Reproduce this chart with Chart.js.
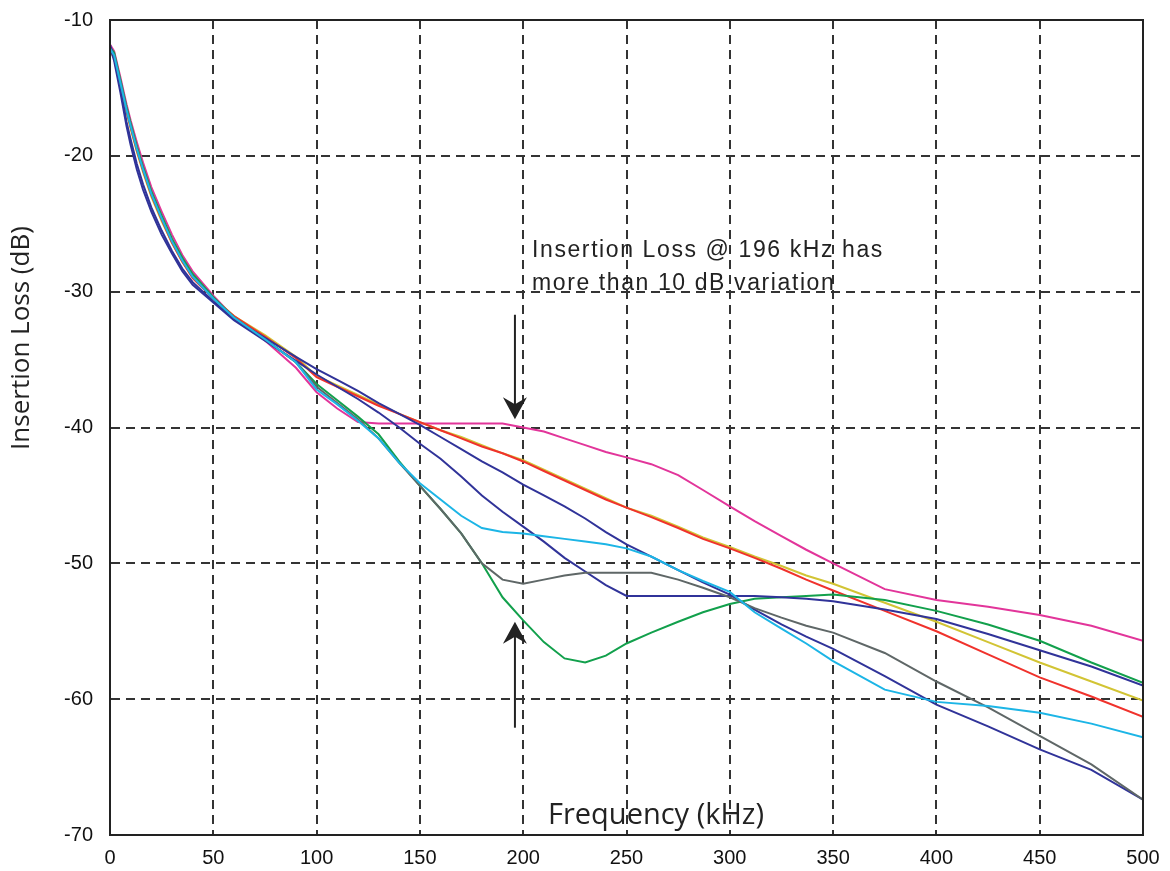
<!DOCTYPE html>
<html>
<head>
    <title>Insertion Loss vs Frequency</title>
    <script src="https://cdn.jsdelivr.net/npm/chart.js"></script>
    <style>
        body { margin: 0; background: #fff; }
        #wrap { width: 1170px; height: 871px; }
    </style>
</head>
<body>
<div id="wrap"><canvas id="lossChart" width="1170" height="871"></canvas></div>
<script>
// frequency points (kHz), shared by every trace
const freq = [0, 2, 5, 8, 10, 13, 16, 20, 25, 30, 35, 40, 50, 60, 75, 90,
    100, 110, 120, 130, 140, 150, 160, 170, 180, 190,
    200, 210, 220, 230, 240, 250, 262, 275, 287, 300,
    312, 325, 337, 350, 375, 400, 425, 450, 475, 500];

// insertion loss (dB) per trace
const lossMagenta = [-11.8, -12.3, -14.2, -16.2, -17.4, -19.0, -20.5, -22.3, -24.1, -25.8, -27.3, -28.5, -30.3, -31.9, -33.6, -35.6,
    -37.4, -38.6, -39.6, -39.7, -39.7, -39.7, -39.7, -39.7, -39.7, -39.7,
    -40.0, -40.3, -40.8, -41.3, -41.8, -42.2, -42.7, -43.5, -44.6, -45.8,
    -46.9, -48.0, -49.0, -50.0, -51.9, -52.7, -53.2, -53.8, -54.6, -55.7];
const lossYellow = [-12.3, -12.8, -14.7, -16.8, -18.0, -19.7, -21.2, -23.0, -24.8, -26.4, -27.8, -28.9, -30.5, -31.8, -33.2, -34.8,
    -36.2, -36.9, -37.6, -38.3, -39.0, -39.6, -40.2, -40.7, -41.3, -41.9,
    -42.4, -43.1, -43.8, -44.5, -45.2, -45.9, -46.5, -47.3, -48.1, -48.8,
    -49.5, -50.2, -50.9, -51.5, -52.9, -54.3, -55.8, -57.3, -58.7, -60.1];
const lossRed = [-12.2, -12.7, -14.6, -16.7, -17.9, -19.6, -21.1, -22.9, -24.7, -26.4, -27.8, -29.0, -30.5, -31.8, -33.3, -34.9,
    -36.3, -37.0, -37.7, -38.4, -39.0, -39.6, -40.2, -40.8, -41.4, -41.9,
    -42.5, -43.2, -43.9, -44.6, -45.3, -45.9, -46.6, -47.4, -48.2, -48.9,
    -49.6, -50.4, -51.2, -52.0, -53.5, -55.0, -56.7, -58.4, -59.8, -61.3];
const lossGreen = [-12.0, -12.4, -14.4, -16.4, -17.6, -19.3, -20.8, -22.6, -24.4, -26.1, -27.5, -28.7, -30.4, -31.9, -33.5, -35.2,
    -36.8, -38.0, -39.2, -40.5, -42.5, -44.3, -46.0, -47.8, -50.0, -52.5,
    -54.2, -55.8, -57.0, -57.3, -56.8, -55.9, -55.1, -54.3, -53.6, -53.0,
    -52.6, -52.5, -52.4, -52.3, -52.7, -53.5, -54.5, -55.7, -57.3, -58.8];
const lossGray = [-12.1, -12.6, -14.6, -16.6, -17.8, -19.5, -21.0, -22.8, -24.6, -26.3, -27.7, -28.9, -30.5, -31.9, -33.5, -35.2,
    -37.0, -38.2, -39.4, -40.8, -42.6, -44.3, -46.0, -47.8, -50.0, -51.2,
    -51.5, -51.2, -50.9, -50.7, -50.7, -50.7, -50.7, -51.2, -51.8, -52.5,
    -53.3, -54.0, -54.6, -55.1, -56.6, -58.7, -60.6, -62.7, -64.8, -67.4];
const lossCyan = [-12.1, -12.6, -14.6, -16.6, -17.8, -19.5, -21.0, -22.8, -24.6, -26.3, -27.7, -28.9, -30.5, -31.9, -33.5, -35.2,
    -37.2, -38.3, -39.5, -40.8, -42.6, -44.1, -45.3, -46.5, -47.4, -47.7,
    -47.8, -48.0, -48.2, -48.4, -48.6, -48.9, -49.5, -50.5, -51.3, -52.1,
    -53.6, -54.8, -55.9, -57.2, -59.3, -60.2, -60.5, -61.0, -61.8, -62.8];
const lossBlueA = [-11.8, -12.8, -15.0, -17.5, -18.8, -20.6, -22.1, -23.8, -25.5, -27.0, -28.3, -29.3, -30.7, -32.0, -33.4, -34.8,
    -35.7, -36.5, -37.3, -38.2, -39.0, -39.8, -40.7, -41.6, -42.5, -43.3,
    -44.2, -45.0, -45.8, -46.7, -47.7, -48.6, -49.5, -50.5, -51.4, -52.3,
    -53.4, -54.5, -55.4, -56.3, -58.3, -60.4, -62.0, -63.7, -65.2, -67.4];
const lossBlueB = [-12.0, -13.0, -15.3, -17.8, -19.2, -21.0, -22.5, -24.1, -25.8, -27.2, -28.5, -29.5, -30.8, -32.1, -33.6, -35.1,
    -36.1, -37.0, -37.9, -38.9, -40.0, -41.2, -42.3, -43.6, -45.0, -46.2,
    -47.3, -48.4, -49.6, -50.6, -51.6, -52.4, -52.4, -52.4, -52.4, -52.4,
    -52.4, -52.5, -52.6, -52.8, -53.4, -54.1, -55.2, -56.4, -57.6, -59.0];

const traces = [
    { data: lossCyan,    color: '#1cb5e6' },
    { data: lossGray,    color: '#5f6767' },
    { data: lossBlueB,   color: '#303399' },
    { data: lossBlueA,   color: '#303399' },
    { data: lossGreen,   color: '#12a04c' },
    { data: lossRed,     color: '#f0322c' },
    { data: lossYellow,  color: '#d2c434' },
    { data: lossMagenta, color: '#e2359a' }
];

const noteLines = ['Insertion Loss @ 196 kHz has', 'more than 10 dB variation'];
const markFreq = 196;

// frame, axis titles, note and arrows
const extras = {
    id: 'extras',
    afterDraw(chart) {
        const { ctx, chartArea: a, scales: { x, y } } = chart;
        ctx.save();
        ctx.strokeStyle = '#222';
        ctx.lineWidth = 2;
        ctx.setLineDash([]);
        ctx.strokeRect(a.left, a.top, a.right - a.left, a.bottom - a.top);

        ctx.fillStyle = '#222';
        ctx.font = '26px "Open Sans", "Noto Sans", sans-serif';
        ctx.textAlign = 'center';
        ctx.textBaseline = 'middle';
        ctx.translate(22, 338);
        ctx.rotate(-Math.PI / 2);
        ctx.fillText('Insertion Loss (dB)', 0, 0);
        ctx.restore();

        ctx.save();
        ctx.fillStyle = '#222';
        ctx.font = '29px "Open Sans", "Noto Sans", sans-serif';
        ctx.textAlign = 'center';
        ctx.textBaseline = 'alphabetic';
        ctx.fillText('Frequency (kHz)', 656, 824);

        ctx.font = '23px "Liberation Sans", Arial, sans-serif';
        ctx.letterSpacing = '1.6px';
        ctx.textAlign = 'left';
        ctx.fillText(noteLines[0], 532, 257);
        ctx.fillText(noteLines[1], 532, 290);
        ctx.letterSpacing = '0px';

        const ax = x.getPixelForValue(markFreq);
        const arrow = (y0, y1) => {
            const dir = y1 > y0 ? 1 : -1;
            ctx.strokeStyle = '#222';
            ctx.lineWidth = 2;
            ctx.beginPath();
            ctx.moveTo(ax, y0);
            ctx.lineTo(ax, y1 - dir * 14);
            ctx.stroke();
            ctx.beginPath();
            ctx.moveTo(ax, y1);
            ctx.lineTo(ax - 12, y1 - dir * 22);
            ctx.lineTo(ax, y1 - dir * 15);
            ctx.lineTo(ax + 12, y1 - dir * 22);
            ctx.closePath();
            ctx.fill();
        };
        arrow(y.getPixelForValue(-31.7), y.getPixelForValue(-39.4));
        arrow(y.getPixelForValue(-62.1), y.getPixelForValue(-54.3));
        ctx.restore();
    }
};

const tickFont = { family: '"Liberation Sans", Arial, sans-serif', size: 20 };

new Chart(document.getElementById('lossChart'), {
    type: 'line',
    data: {
        datasets: traces.map(t => ({
            data: freq.map((f, i) => ({ x: f, y: t.data[i] })),
            borderColor: t.color,
            borderWidth: 2,
            pointRadius: 0,
            tension: 0,
            fill: false
        }))
    },
    options: {
        responsive: false,
        animation: false,
        devicePixelRatio: 1,
        layout: { padding: { top: 20, right: 27, left: 0, bottom: 0 } },
        plugins: { legend: { display: false }, tooltip: { enabled: false } },
        scales: {
            x: {
                type: 'linear',
                min: 0,
                max: 500,
                ticks: { stepSize: 50, color: '#111', font: tickFont, padding: 11, maxRotation: 0 },
                grid: { color: '#333', lineWidth: 2, drawTicks: false },
                border: { color: '#222', width: 2, dash: [9, 6] },
                afterFit: s => { s.height = 36; s.paddingLeft = 0; s.paddingRight = 0; }
            },
            y: {
                min: -70,
                max: -10,
                ticks: { stepSize: 10, color: '#111', font: tickFont, padding: 17 },
                grid: { color: '#333', lineWidth: 2, drawTicks: false },
                border: { color: '#222', width: 2, dash: [9, 6] },
                afterFit: s => { s.width = 110; s.paddingTop = 0; s.paddingBottom = 0; }
            }
        }
    },
    plugins: [extras]
});
</script>
</body>
</html>
